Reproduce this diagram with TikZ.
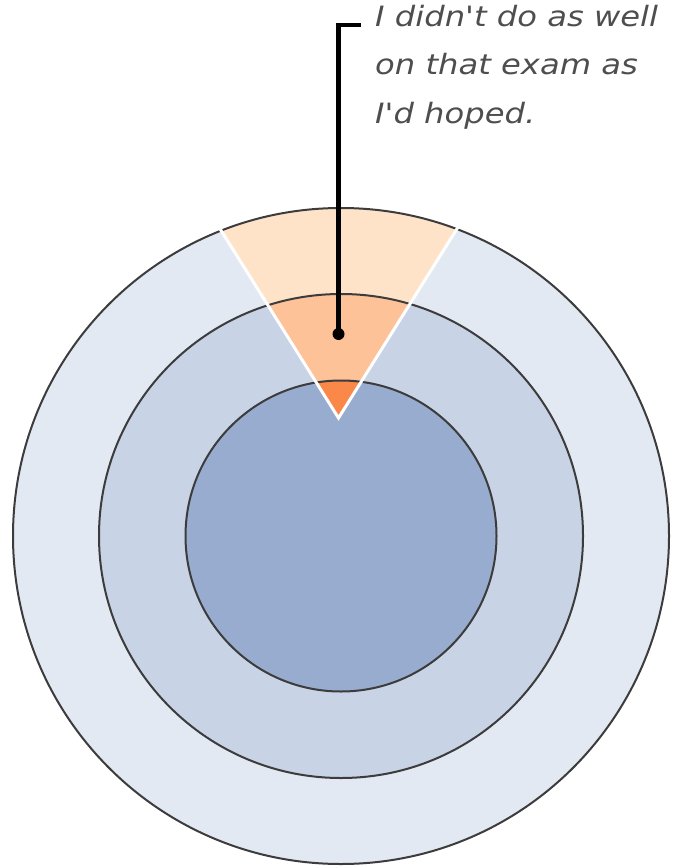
\documentclass[tikz,border=0pt]{standalone}
\usepackage{fontspec}
\usetikzlibrary{calc}
\newfontfamily\notefont[FakeStretch=1.15]{DejaVu Sans}
\definecolor{ringA}{HTML}{E3E9F3}
\definecolor{ringB}{HTML}{C9D3E6}
\definecolor{ringC}{HTML}{97ACCF}
\definecolor{wedgeA}{HTML}{FEE3C9}
\definecolor{wedgeB}{HTML}{FDC297}
\definecolor{wedgeC}{HTML}{FA8848}
\definecolor{edgegray}{HTML}{3C3C3C}
\definecolor{textgray}{HTML}{4E4E4E}
\tikzset{
  ring/.style={draw=edgegray, line width=2pt},
  wedgeline/.style={draw=white, line width=3pt},
  leader/.style={draw=black, line width=4.5pt, line join=miter},
  notetext/.style={font=\notefont\slshape\fontsize{28}{48.5}\selectfont, text=textgray, align=left, inner sep=0pt, anchor=north west}
}
\begin{document}
\begin{tikzpicture}[x=1pt,y=-1pt]
\useasboundingbox (0,0) rectangle (674,866);
\coordinate (c) at (341,536);
\coordinate (apex) at (338.5,418);
\coordinate (farL) at ($(apex)+(-318.6,-508.8)$);
\coordinate (farR) at ($(apex)+(318.6,-508.8)$);
% blue rings
\fill[ringA] (c) circle (328);
\fill[ringB] (c) circle (242);
\fill[ringC] (c) circle (155.5);
% orange wedge
\begin{scope}
  \clip (apex) -- (farL) -- (farR) -- cycle;
  \fill[wedgeA] (c) circle (328);
  \fill[wedgeB] (c) circle (242);
  \fill[wedgeC] (c) circle (155.5);
\end{scope}
% outlines
\draw[ring] (c) circle (328);
\draw[ring] (c) circle (242);
\draw[ring] (c) circle (155.5);
% white wedge edges
\begin{scope}
  \clip (c) circle (329.5);
  \draw[wedgeline] (farL) -- (apex) -- (farR);
\end{scope}
% leader
\node[circle, fill=black, minimum size=12pt, inner sep=0pt] (dot) at (338.5,334) {};
\coordinate (lineEnd) at (361,25);
\draw[leader] (dot.center) |- (lineEnd);
\node[notetext] (note) at (375,5) {I didn't do as well\\on that exam as\\I'd hoped.};
\end{tikzpicture}
\end{document}
